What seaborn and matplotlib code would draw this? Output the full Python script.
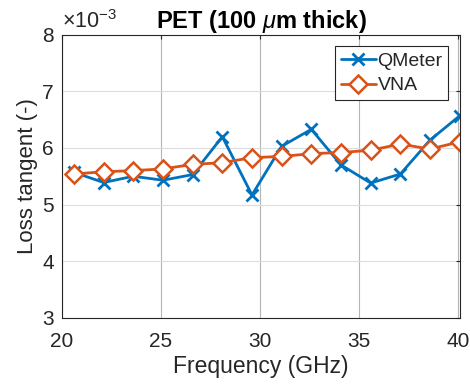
import matplotlib
matplotlib.use("Agg")
import matplotlib.pyplot as plt
import numpy as np
import pandas as pd
import seaborn as sns

# PET 100 um, loss tangent in units of 1e-3
FREQ_GHZ = [20.6, 22.1, 23.6, 25.1, 26.6, 28.1, 29.6, 31.1, 32.6, 34.1, 35.6, 37.1, 38.6, 40.1]
QMETER = [5.57, 5.39, 5.50, 5.43, 5.53, 6.20, 5.17, 6.03, 6.33, 5.70, 5.38, 5.54, 6.14, 6.57]
VNA = [5.54, 5.58, 5.60, 5.63, 5.71, 5.74, 5.83, 5.85, 5.90, 5.92, 5.96, 6.07, 5.98, 6.11]
SERIES = ["QMeter", "VNA"]
XTICKS = [20, 25, 30, 35, 40]
YTICKS = [3, 4, 5, 6, 7, 8]

sns.set_style("whitegrid")
plt.rcParams["font.family"] = ["Liberation Sans", "DejaVu Sans"]
plt.rcParams["mathtext.fontset"] = "custom"
plt.rcParams["mathtext.it"] = "Liberation Sans:italic"
plt.rcParams["mathtext.rm"] = "Liberation Sans"
plt.rcParams["mathtext.bf"] = "Liberation Sans:bold"

DARK = "#262626"
BLUE = "#0072BD"
ORANGE = "#D95319"

fig = plt.figure(figsize=(4.7, 3.87), dpi=100)
ax = fig.add_axes([0.132, 0.179, 0.847, 0.731])

df = pd.DataFrame({"freq": FREQ_GHZ, "QMeter": QMETER, "VNA": VNA})
sns.lineplot(data=df, x="freq", y="QMeter", ax=ax, color=BLUE, linewidth=2,
             marker="x", markersize=9, markeredgewidth=2, markeredgecolor=BLUE,
             label=SERIES[0])
sns.lineplot(data=df, x="freq", y="VNA", ax=ax, color=ORANGE, linewidth=2,
             marker="D", markersize=9.5, markeredgewidth=1.8, markerfacecolor="white",
             markeredgecolor=ORANGE, label=SERIES[1])

ax.set_xlim(20, 40.12)
ax.set_ylim(3, 8)
ax.set_xticks(XTICKS)
ax.set_yticks(YTICKS)
ax.tick_params(direction="in", length=3, labelsize=15, colors=DARK,
               top=True, right=True)
ax.tick_params(axis="x", pad=10)
ax.tick_params(axis="y", pad=6)
ax.xaxis.grid(True, color="#b5b5b5", linewidth=0.8)
ax.yaxis.grid(True, color="#dcdcdc", linewidth=0.8)
for s in ax.spines.values():
    s.set_color(DARK)
    s.set_linewidth(0.8)
ax.set_xlabel("Frequency (GHz)", fontsize=16.5, color=DARK, labelpad=3)
ax.set_ylabel("Loss tangent (-)", fontsize=16, color=DARK, labelpad=3)
ax.set_title(r"PET (100 $\mu$m thick)", fontsize=17, fontweight="bold", color="black", pad=5)
ax.text(0.0, 1.005, r"$\times$10$^{-3}$", transform=ax.transAxes, fontsize=15.5,
        color=DARK, ha="left", va="bottom")

leg = ax.legend(loc="upper right", fontsize=14, frameon=True, fancybox=False,
                handlelength=1.8, handletextpad=0.1, borderpad=0.3,
                labelspacing=0.35, borderaxespad=0.6)
leg.get_frame().set_edgecolor(DARK)
leg.get_frame().set_linewidth(0.8)
leg.get_frame().set_alpha(1)
for t in leg.get_texts():
    t.set_color(DARK)

fig.savefig("out.png", dpi=100)
